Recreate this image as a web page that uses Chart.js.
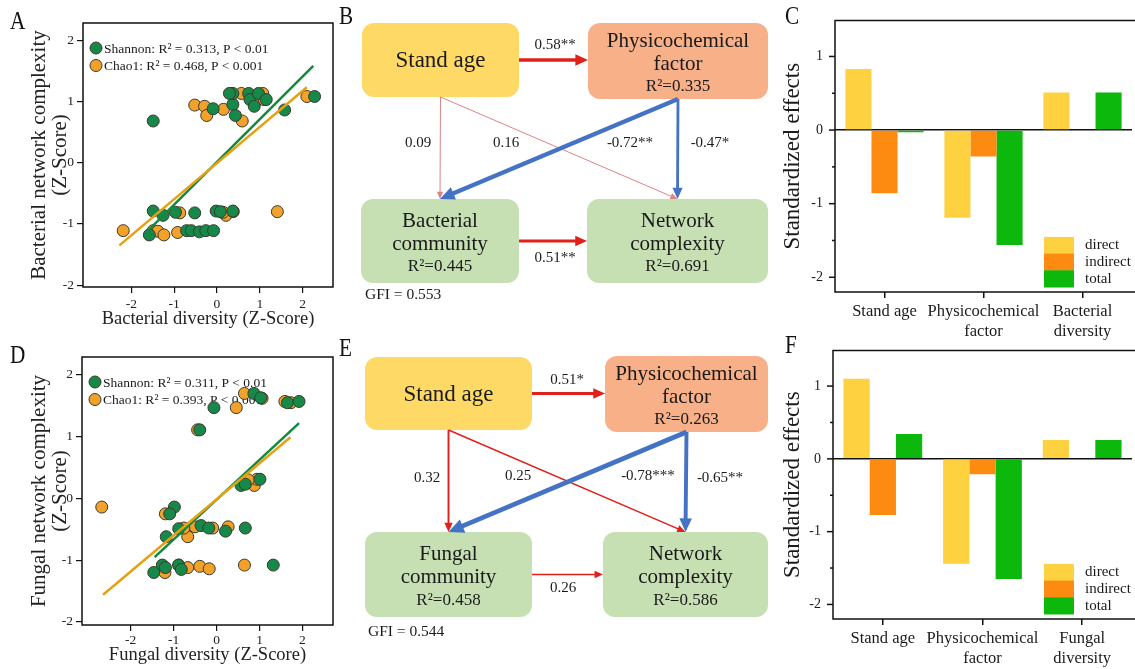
<!DOCTYPE html>
<html>
<head>
<meta charset="utf-8">
<title>Stand age, soil factors and microbial network complexity</title>
<script src="https://cdn.jsdelivr.net/npm/chart.js@4.4.1/dist/chart.umd.min.js"></script>
<style>
  body { margin: 0; background: #fff; }
  #figure { position: relative; width: 1135px; height: 669px; overflow: hidden; background: #fff; }
  #figure canvas { position: absolute; }
  .tag { position: absolute; font: 25px "Liberation Serif", serif; line-height: 1; color: #111;
         transform: scaleX(0.85); transform-origin: left top; }
</style>
</head>
<body>
<div id="figure">
  <canvas id="chartA" width="340" height="330" style="left:0;top:0"></canvas>
  <canvas id="semB" width="433" height="320" style="left:337px;top:0"></canvas>
  <canvas id="chartC" width="375" height="345" style="left:760px;top:0"></canvas>
  <canvas id="chartD" width="340" height="339" style="left:0;top:330px"></canvas>
  <canvas id="semE" width="433" height="320" style="left:337px;top:330px"></canvas>
  <canvas id="chartF" width="375" height="339" style="left:760px;top:330px"></canvas>
  <div class="tag" style="left:10px;top:8px">A</div>
  <div class="tag" style="left:339px;top:3px">B</div>
  <div class="tag" style="left:785px;top:3px">C</div>
  <div class="tag" style="left:10px;top:342px">D</div>
  <div class="tag" style="left:339px;top:335px">E</div>
  <div class="tag" style="left:785px;top:332px">F</div>
</div>
<script>
// ---------- data ----------
// A: bacterial diversity vs bacterial network complexity (Z-scores), [x, y]
const bactShannon = [
  [-1.49, 0.68], [-1.49, -0.79], [-1.58, -1.18], [-1.26, -0.86], [-0.97, -0.81],
  [-0.52, -0.82], [-0.71, -1.11], [-0.60, -1.11], [-0.41, -1.13], [-0.26, -1.11],
  [-0.08, -1.11], [-0.02, -0.79], [0.08, -0.80], [0.37, -0.79], [-0.09, 0.88],
  [0.37, 0.95], [0.37, 1.13], [0.43, 0.77], [0.29, 1.13], [0.74, 1.13], [0.77, 1.03],
  [0.87, 0.92], [0.97, 1.13], [1.15, 1.03], [1.58, 0.86], [2.28, 1.08]
];
const bactChao = [
  [-2.19, -1.11], [-1.49, -1.11], [-1.38, -1.12], [-1.24, -1.18], [-0.92, -1.14],
  [-0.87, -0.82], [-0.52, 0.94], [-0.29, 0.92], [-0.24, 0.77], [0.15, 0.87],
  [0.21, -0.86], [0.38, -0.80], [0.14, -0.81], [0.57, 1.13], [0.59, 0.68],
  [0.34, 1.13], [0.93, 1.02], [1.07, 1.13], [1.10, 1.03], [1.41, -0.80], [2.10, 1.08]
];
const bactShannonFit = [[-1.61, -1.11], [2.25, 1.58]];
const bactChaoFit = [[-2.28, -1.35], [2.10, 1.23]];
const bactLegend = ["Shannon: R² = 0.313, P < 0.01", "Chao1: R² = 0.468, P < 0.001"];

// D: fungal diversity vs fungal network complexity (Z-scores)
const fungShannon = [
  [-0.06, 1.47], [-0.39, 1.11], [0.87, 1.70], [1.03, 1.63], [1.65, 1.55], [1.92, 1.57],
  [0.57, 0.21], [0.67, 0.23], [1.01, 0.31], [-0.98, -0.14], [-1.09, -0.25], [-1.17, -0.62],
  [-0.88, -0.49], [-0.36, -0.44], [-0.18, -0.48], [0.21, -0.53], [0.67, -0.48],
  [-1.46, -1.20], [-1.26, -1.08], [-1.19, -1.12], [-0.88, -1.08], [-0.82, -1.15], [1.32, -1.08]
];
const fungChao = [
  [-2.67, -0.14], [-1.19, -0.25], [-1.20, -1.20], [-0.88, -1.08], [-0.67, -1.12],
  [-0.39, -1.10], [-0.17, -1.14], [0.65, -1.08], [-0.44, 1.11], [0.46, 1.47],
  [0.65, 1.70], [1.06, 1.62], [1.59, 1.57], [1.73, 1.55], [0.88, 0.21], [0.94, 0.31],
  [0.74, 0.30], [-0.67, -0.62], [-0.50, -0.46], [-0.76, -0.48], [-0.09, -0.48], [0.27, -0.46]
];
const fungShannonFit = [[-1.44, -0.95], [1.92, 1.22]];
const fungChaoFit = [[-2.64, -1.56], [1.72, 0.99]];
const fungLegend = ["Shannon: R² = 0.311, P < 0.01", "Chao1: R² = 0.393, P < 0.001"];

const zTicks = [-2, -1, 0, 1, 2];

// B / E: structural equation models, paths = [from, to, coefficient, label]
const bactNodeText = { age: ["Stand age"], phys: ["Physicochemical", "factor"], comm: ["Bacterial", "community"], net: ["Network", "complexity"] };
const bactR2 = { phys: "0.335", comm: "0.445", net: "0.691" };
const bactPaths = [
  ["age", "phys", 0.58, "0.58**"],
  ["age", "comm", 0.09, "0.09"],
  ["age", "net", 0.16, "0.16"],
  ["phys", "comm", -0.72, "-0.72**"],
  ["phys", "net", -0.47, "-0.47*"],
  ["comm", "net", 0.51, "0.51**"]
];
const bactGFI = "0.553";

const fungNodeText = { age: ["Stand age"], phys: ["Physicochemical", "factor"], comm: ["Fungal", "community"], net: ["Network", "complexity"] };
const fungR2 = { phys: "0.263", comm: "0.458", net: "0.586" };
const fungPaths = [
  ["age", "phys", 0.51, "0.51*"],
  ["age", "comm", 0.32, "0.32"],
  ["age", "net", 0.25, "0.25"],
  ["phys", "comm", -0.78, "-0.78***"],
  ["phys", "net", -0.65, "-0.65**"],
  ["comm", "net", 0.26, "0.26"]
];
const fungGFI = "0.544";

// C / F: standardized effects on network complexity
const effectSeries = ["direct", "indirect", "total"];
const bactEffectCats = ["Stand age", ["Physicochemical", "factor"], ["Bacterial", "diversity"]];
const bactDirect = [0.83, -1.19, 0.51];
const bactIndirect = [-0.86, -0.36, 0];
const bactTotal = [-0.03, -1.56, 0.51];

const fungEffectCats = ["Stand age", ["Physicochemical", "factor"], ["Fungal", "diversity"]];
const fungDirect = [1.10, -1.44, 0.26];
const fungIndirect = [-0.77, -0.21, 0];
const fungTotal = [0.34, -1.65, 0.26];

const effectTicks = [-2, -1.5, -1, -0.5, 0, 0.5, 1];

// ---------- styles ----------
const GREEN = "#16894a";
const ORANGE = "#f2a12a";
const GREEN_LINE = "#13893e";
const ORANGE_LINE = "#e6a014";
const EDGE = "#3a3a2a";
const DIRECT = "#fed141";
const INDIRECT = "#fd8b12";
const TOTAL = "#0cb80c";
const SERIF = '"Liberation Serif", "Times New Roman", serif';

Chart.defaults.font.family = SERIF;
Chart.defaults.color = "#1a1a1a";
Chart.defaults.animation = false;

const toPts = arr => arr.map(p => ({ x: p[0], y: p[1] }));

// ---------- scatter panels (A, D) ----------
function scatterPanel(id, p) {
  const decor = {
    id: "scatterDecor",
    beforeDatasetsDraw(chart) {
      const { ctx, chartArea: a } = chart;
      ctx.save();
      ctx.font = "13.5px " + SERIF;
      ctx.textBaseline = "middle";
      p.legend.forEach((text, i) => {
        const cx = a.left + 13;
        const cy = a.top + 25 + i * 17.5;
        ctx.beginPath();
        ctx.arc(cx, cy, 6, 0, Math.PI * 2);
        ctx.fillStyle = i === 0 ? GREEN : ORANGE;
        ctx.fill();
        ctx.lineWidth = 1;
        ctx.strokeStyle = EDGE;
        ctx.stroke();
        ctx.fillStyle = "#1a1a1a";
        ctx.fillText(text, cx + 8, cy + 1);
      });
      ctx.restore();
    },
    afterDraw(chart) {
      const { ctx, chartArea: a } = chart;
      ctx.save();
      ctx.lineWidth = 1.5;
      ctx.strokeStyle = "#111";
      ctx.strokeRect(a.left, a.top, a.right - a.left, a.bottom - a.top);
      ctx.restore();
    }
  };

  const pointStyle = color => ({
    backgroundColor: color, borderColor: EDGE, borderWidth: 1, pointRadius: 6, pointHoverRadius: 6
  });

  return new Chart(document.getElementById(id), {
    type: "scatter",
    data: {
      datasets: [
        { label: "Chao1", data: toPts(p.chao), ...pointStyle(ORANGE), order: 4 },
        { label: "Shannon", data: toPts(p.shannon), ...pointStyle(GREEN), order: 3 },
        { label: "Shannon fit", data: toPts(p.shannonFit), showLine: true, borderColor: GREEN_LINE, borderWidth: 2.5, pointRadius: 0, order: 2 },
        { label: "Chao1 fit", data: toPts(p.chaoFit), showLine: true, borderColor: ORANGE_LINE, borderWidth: 2.5, pointRadius: 0, order: 1 }
      ]
    },
    options: {
      responsive: false,
      layout: { padding: { top: p.top, right: 3, left: 0, bottom: 0 } },
      plugins: { legend: { display: false }, tooltip: { enabled: false } },
      scales: {
        x: {
          type: "linear", min: p.xMin, max: p.xMax,
          afterBuildTicks: s => { s.ticks = zTicks.map(v => ({ value: v })); },
          afterFit: s => { s.height = p.xHeight; },
          grid: { drawOnChartArea: false, color: "#111", tickLength: 6, lineWidth: 1.2 },
          border: { display: false },
          ticks: { font: { size: 13.5 }, color: "#222", padding: p.xTickPad, maxRotation: 0 },
          title: { display: true, text: p.xTitle, font: { size: 18.5 }, color: "#222", padding: { top: 0, bottom: p.xTitlePad } }
        },
        y: {
          type: "linear", min: p.yMin, max: p.yMax,
          afterBuildTicks: s => { s.ticks = zTicks.map(v => ({ value: v })); },
          afterFit: s => { s.width = p.yWidth; },
          grid: { drawOnChartArea: false, color: "#111", tickLength: 6, lineWidth: 1.2 },
          border: { display: false },
          ticks: { font: { size: 13.5 }, color: "#222", padding: 3 },
          title: { display: true, text: p.yTitle, font: { size: 21, lineHeight: 1.0 }, color: "#222", padding: { top: 29, bottom: 0 } }
        }
      }
    },
    plugins: [decor]
  });
}

// ---------- structural equation diagrams (B, E) ----------
const semLayout = {
  B: {
    width: 433, height: 320,
    boxes: { age: [25, 23, 182, 97], phys: [251, 23, 431, 99], comm: [24, 199, 182, 283], net: [250, 199, 431, 283] },
    labels: [[218, 45], [81, 143], [169, 143], [293, 143], [373, 143], [218, 258]],
    gfi: [28, 295]
  },
  E: {
    width: 433, height: 320,
    boxes: { age: [28, 27, 195, 100], phys: [268, 26, 431, 102], comm: [28, 202, 195, 287], net: [266, 202, 431, 287] },
    labels: [[230, 50], [90, 148], [181, 146], [311, 146], [383, 148], [226, 258]],
    gfi: [31, 302]
  }
};
const boxFill = { age: "#ffd966", phys: "#f7b088", comm: "#c6e0b4", net: "#c6e0b4" };

function drawArrow(ctx, x0, y0, x1, y1, w, color) {
  const ang = Math.atan2(y1 - y0, x1 - x0);
  const hl = 5 + w * 2.2;
  const hw = 2 + w * 1.1;
  const c = Math.cos(ang), s = Math.sin(ang);
  const bx = x1 - hl * c, by = y1 - hl * s;
  ctx.strokeStyle = color;
  ctx.lineWidth = w;
  ctx.beginPath();
  ctx.moveTo(x0, y0);
  ctx.lineTo(bx + c, by + s);
  ctx.stroke();
  ctx.fillStyle = color;
  ctx.beginPath();
  ctx.moveTo(x1, y1);
  ctx.lineTo(bx + hw * s, by - hw * c);
  ctx.lineTo(bx - hw * s, by + hw * c);
  ctx.closePath();
  ctx.fill();
}

function semPanel(id, p) {
  const L = p.layout;
  const diagram = {
    id: "semDiagram",
    afterDraw(chart) {
      const { ctx, scales: { x, y } } = chart;
      const box = k => {
        const b = L.boxes[k];
        const r = { x0: x.getPixelForValue(b[0]), y0: y.getPixelForValue(b[1]), x1: x.getPixelForValue(b[2]), y1: y.getPixelForValue(b[3]) };
        r.cx = (r.x0 + r.x1) / 2;
        r.cy = (r.y0 + r.y1) / 2;
        return r;
      };
      ctx.save();

      // boxes with their text
      Object.keys(p.text).forEach(k => {
        const b = box(k);
        ctx.fillStyle = boxFill[k];
        ctx.beginPath();
        ctx.roundRect(b.x0, b.y0, b.x1 - b.x0, b.y1 - b.y0, 12);
        ctx.fill();
        ctx.fillStyle = "#1a1a1a";
        ctx.textAlign = "center";
        ctx.textBaseline = "middle";
        const lines = p.text[k];
        if (!p.r2[k]) {
          ctx.font = "23px " + SERIF;
          ctx.fillText(lines[0], b.cx, b.cy + 1);
        } else {
          ctx.font = "21px " + SERIF;
          ctx.fillText(lines[0], b.cx, b.cy - 20);
          ctx.fillText(lines[1], b.cx, b.cy + 3);
          ctx.font = "17px " + SERIF;
          ctx.fillText("R²=" + p.r2[k], b.cx, b.cy + 26);
        }
      });

      // paths
      p.paths.forEach(([from, to, coef, label], i) => {
        const a = box(from), b = box(to);
        const w = Math.max(1, Math.abs(coef) * 6);
        const color = coef < 0 ? "#4472c4" : (Math.abs(coef) < 0.2 ? "#d98585" : "#e0201b");
        if (Math.abs(a.cy - b.cy) < 20) {
          drawArrow(ctx, a.x1, a.cy, b.x0, a.cy, w, color);
        } else {
          drawArrow(ctx, a.cx, a.y1, b.cx, b.y0, w, color);
        }
        const lp = L.labels[i];
        ctx.font = "15px " + SERIF;
        ctx.fillStyle = "#1a1a1a";
        ctx.textAlign = "center";
        ctx.textBaseline = "middle";
        ctx.fillText(label, x.getPixelForValue(lp[0]), y.getPixelForValue(lp[1]));
      });

      ctx.font = "15.5px " + SERIF;
      ctx.textAlign = "left";
      ctx.textBaseline = "middle";
      ctx.fillText("GFI = " + p.gfi, x.getPixelForValue(L.gfi[0]), y.getPixelForValue(L.gfi[1]));
      ctx.restore();
    }
  };

  return new Chart(document.getElementById(id), {
    type: "scatter",
    data: { datasets: [] },
    options: {
      responsive: false,
      layout: { padding: 0 },
      plugins: { legend: { display: false }, tooltip: { enabled: false } },
      scales: {
        x: { type: "linear", display: false, min: 0, max: L.width },
        y: { type: "linear", display: false, min: 0, max: L.height, reverse: true }
      }
    },
    plugins: [diagram]
  });
}

// ---------- effect bar panels (C, F) ----------
function effectPanel(id, p) {
  const decor = {
    id: "effectDecor",
    afterDraw(chart) {
      const { ctx, chartArea: a, scales: { y } } = chart;
      ctx.save();
      ctx.strokeStyle = "#111";
      ctx.lineWidth = 1.5;
      ctx.beginPath();
      ctx.moveTo(chart.width, a.top);
      ctx.lineTo(a.left, a.top);
      ctx.lineTo(a.left, a.bottom);
      ctx.lineTo(chart.width, a.bottom);
      ctx.stroke();
      // major and minor y ticks
      y.ticks.forEach(t => {
        const py = y.getPixelForValue(t.value);
        const len = Number.isInteger(t.value) ? 6 : 3;
        ctx.beginPath();
        ctx.moveTo(a.left - len, py);
        ctx.lineTo(a.left, py);
        ctx.stroke();
      });
      // legend: stacked colour blocks
      const colors = [DIRECT, INDIRECT, TOTAL];
      const h = 16.7;
      const top = a.bottom - 5 - h * 3;
      ctx.font = "15px " + SERIF;
      ctx.textBaseline = "middle";
      ctx.textAlign = "left";
      effectSeries.forEach((name, i) => {
        ctx.fillStyle = colors[i];
        ctx.fillRect(a.right - 88, top + i * h, 30, h + 0.5);
        ctx.fillStyle = "#1a1a1a";
        ctx.fillText(name, a.right - 47, top + i * h + h / 2);
      });
      ctx.restore();
    }
  };

  const bar = (label, data, color) => ({
    label, data, backgroundColor: color, borderWidth: 0, categoryPercentage: 0.79, barPercentage: 1
  });

  return new Chart(document.getElementById(id), {
    type: "bar",
    data: {
      labels: p.cats,
      datasets: [
        bar(effectSeries[0], p.direct, DIRECT),
        bar(effectSeries[1], p.indirect, INDIRECT),
        bar(effectSeries[2], p.total, TOTAL)
      ]
    },
    options: {
      responsive: false,
      layout: { padding: { top: p.top, right: 3, left: 0, bottom: 0 } },
      plugins: { legend: { display: false }, tooltip: { enabled: false } },
      scales: {
        x: {
          afterFit: s => { s.height = p.xHeight; },
          grid: { offset: false, drawOnChartArea: false, color: "#111", tickLength: 6, lineWidth: 1.5 },
          border: { display: false },
          ticks: { font: { size: 16.5 }, color: "#1a1a1a", padding: 4, maxRotation: 0, autoSkip: false }
        },
        y: {
          min: -2.2, max: 1.49,
          afterBuildTicks: s => { s.ticks = effectTicks.map(v => ({ value: v })); },
          afterFit: s => { s.width = p.yWidth; },
          grid: {
            drawTicks: false,
            lineWidth: 1.5,
            color: c => (c.tick && c.tick.value === 0 ? "#111" : "rgba(0,0,0,0)")
          },
          border: { display: false },
          ticks: {
            font: { size: 14 }, color: "#1a1a1a", padding: 12,
            callback: v => (Number.isInteger(v) ? String(v) : "")
          },
          title: { display: true, text: "Standardized effects", font: { size: 23 }, color: "#1a1a1a", padding: { top: 19, bottom: 0 } }
        }
      }
    },
    plugins: [decor]
  });
}

// ---------- build ----------
scatterPanel("chartA", {
  shannon: bactShannon, chao: bactChao, shannonFit: bactShannonFit, chaoFit: bactChaoFit,
  legend: bactLegend,
  xMin: -3.13, xMax: 2.71, yMin: -2.03, yMax: 2.28,
  top: 23, yWidth: 83, xHeight: 43, xTitlePad: 0, xTickPad: 3,
  xTitle: "Bacterial diversity (Z-Score)",
  yTitle: ["Bacterial network complexity", "(Z-Score)"]
});

scatterPanel("chartD", {
  shannon: fungShannon, chao: fungChao, shannonFit: fungShannonFit, chaoFit: fungChaoFit,
  legend: fungLegend,
  xMin: -3.13, xMax: 2.71, yMin: -2.05, yMax: 2.29,
  top: 27, yWidth: 82, xHeight: 44, xTitlePad: 3, xTickPad: 1,
  xTitle: "Fungal diversity (Z-Score)",
  yTitle: ["Fungal network complexity", "(Z-Score)"]
});

semPanel("semB", { layout: semLayout.B, text: bactNodeText, r2: bactR2, paths: bactPaths, gfi: bactGFI });
semPanel("semE", { layout: semLayout.E, text: fungNodeText, r2: fungR2, paths: fungPaths, gfi: fungGFI });

effectPanel("chartC", {
  cats: bactEffectCats, direct: bactDirect, indirect: bactIndirect, total: bactTotal,
  top: 19, yWidth: 75, xHeight: 53
});
effectPanel("chartF", {
  cats: fungEffectCats, direct: fungDirect, indirect: fungIndirect, total: fungTotal,
  top: 16, yWidth: 73, xHeight: 50
});
</script>
</body>
</html>
